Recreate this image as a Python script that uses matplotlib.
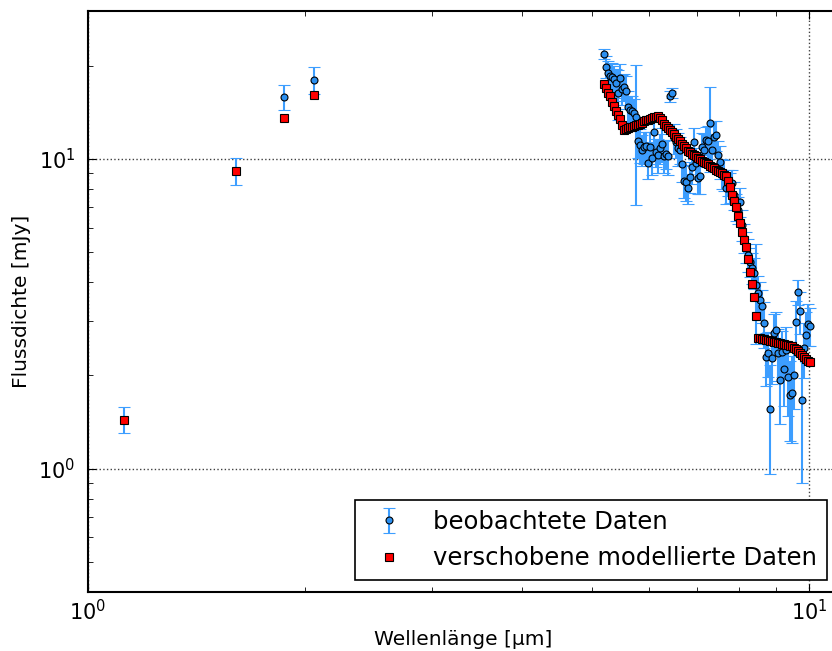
import matplotlib.pyplot as plt
from matplotlib.ticker import NullFormatter

# photometry points (short wavelengths)
wl_phot = [1.122, 1.604, 1.87, 2.06]
flux_phot = [1.44, 9.15, 15.85, 17.98]
err_phot = [0.14, 0.9, 1.5, 1.75]
model_phot = [1.44, 9.15, 13.56, 16.1]

# spectrum (5.2 - 10 micron)
wl_spec = [
    5.197, 5.230, 5.264, 5.297, 5.331, 5.365, 5.400, 5.434, 5.469, 5.504,
    5.539, 5.575, 5.610, 5.646, 5.682, 5.719, 5.756, 5.792, 5.830, 5.867,
    5.905, 5.942, 5.980, 6.019, 6.057, 6.096, 6.135, 6.174, 6.214, 6.254,
    6.294, 6.334, 6.375, 6.416, 6.457, 6.498, 6.540, 6.582, 6.624, 6.666,
    6.709, 6.752, 6.795, 6.839, 6.883, 6.927, 6.971, 7.016, 7.061, 7.106,
    7.152, 7.198, 7.244, 7.290, 7.337, 7.384, 7.431, 7.479, 7.527, 7.575,
    7.624, 7.672, 7.722, 7.771, 7.821, 7.871, 7.921, 7.972, 8.023, 8.075,
    8.126, 8.178, 8.231, 8.284, 8.337, 8.390, 8.444, 8.498, 8.552, 8.607,
    8.662, 8.718, 8.774, 8.830, 8.886, 8.943, 9.001, 9.058, 9.116, 9.175,
    9.233, 9.293, 9.352, 9.412, 9.472, 9.533, 9.594, 9.656, 9.718, 9.780,
    9.843, 9.906, 9.969, 10.03,
]
flux_spec = [
    21.8, 19.8, 18.9, 18.5, 18.4, 18.1, 17.6, 16.3, 18.3, 16.8,
    17.1, 16.5, 14.7, 14.4, 14.3, 14.1, 13.6, 11.4, 11.1, 10.7,
    10.9, 11.0, 9.71, 10.9, 10.1, 12.2, 10.5, 10.3, 10.8, 11.2,
    10.2, 10.4, 10.2, 15.9, 16.3, 11.7, 11.3, 10.8, 10.7, 9.63,
    8.49, 8.43, 8.06, 8.75, 9.42, 11.3, 9.71, 8.69, 8.80, 10.9,
    10.7, 11.5, 11.4, 13.1, 10.7, 11.8, 11.9, 10.3, 9.78, 9.01,
    8.90, 8.06, 8.37, 8.12, 8.37, 7.65, 7.00, 6.85, 7.27, 6.13,
    5.56, 5.20, 4.90, 4.65, 4.45, 4.29, 3.92, 3.70, 3.51, 3.36,
    2.96, 2.30, 2.37, 1.56, 2.28, 2.75, 2.81, 2.37, 1.94, 2.38,
    2.09, 2.42, 1.98, 1.73, 1.76, 2.01, 2.98, 3.72, 3.23, 1.66,
    2.46, 2.71, 2.94, 2.89,
]
err_spec = [
    0.8, 1.6, 1.8, 1.7, 2.0, 1.8, 1.9, 3.0, 2.0, 1.9,
    1.7, 2.0, 1.8, 1.5, 1.6, 1.5, 6.5, 1.3, 1.4, 1.2,
    1.3, 1.2, 1.1, 1.3, 1.2, 1.4, 1.1, 1.3, 1.2, 1.4,
    1.2, 1.1, 1.3, 0.6, 0.6, 1.3, 1.2, 1.3, 1.1, 1.2,
    1.0, 1.1, 0.9, 1.0, 1.1, 1.3, 1.1, 1.0, 1.1, 1.2,
    1.3, 1.2, 1.4, 4.0, 1.3, 1.4, 1.3, 1.1, 1.2, 1.0,
    1.0, 0.9, 0.8, 0.9, 0.8, 0.8, 0.7, 0.7, 0.8, 0.7,
    0.6, 0.6, 0.6, 0.5, 0.5, 0.5, 1.4, 0.5, 0.5, 0.4,
    0.5, 0.45, 0.4, 0.6, 0.4, 0.4, 0.4, 0.45, 0.55, 0.4,
    0.5, 0.45, 0.5, 0.5, 0.55, 0.45, 0.5, 0.35, 0.5, 0.76,
    0.5, 0.5, 0.45, 0.4,
]
model_spec = [
    17.5, 16.9, 16.3, 15.9, 15.3, 14.8, 14.3, 13.9, 13.4, 12.9,
    12.4, 12.5, 12.6, 12.7, 12.7, 12.8, 12.9, 12.9, 13.0, 13.1,
    13.2, 13.3, 13.3, 13.4, 13.5, 13.6, 13.6, 13.7, 13.5, 13.3,
    13.0, 12.8, 12.6, 12.4, 12.2, 12.0, 11.8, 11.6, 11.4, 11.2,
    11.0, 10.8, 10.6, 10.5, 10.4, 10.3, 10.2, 10.1, 9.96, 9.87,
    9.77, 9.68, 9.59, 9.50, 9.41, 9.32, 9.23, 9.14, 9.05, 8.97,
    8.88, 8.82, 8.49, 8.12, 7.65, 7.32, 7.00, 6.55, 6.22, 5.81,
    5.48, 5.20, 4.76, 4.32, 3.95, 3.59, 3.10, 2.65, 2.64, 2.63,
    2.62, 2.61, 2.60, 2.59, 2.58, 2.57, 2.56, 2.55, 2.54, 2.53,
    2.52, 2.51, 2.50, 2.49, 2.48, 2.46, 2.43, 2.40, 2.37, 2.33,
    2.30, 2.26, 2.23, 2.21,
]

wl = wl_phot + wl_spec
flux = flux_phot + flux_spec
err = err_phot + err_spec
model = model_phot + model_spec

fig = plt.figure(figsize=(8.32, 6.51), dpi=100)
ax = fig.add_axes([88 / 832, 59 / 651, 751 / 832, 581 / 651])

obs = ax.errorbar(wl, flux, yerr=err, fmt="o", ms=5, mfc="#2b8ff0", mec="k",
                  mew=0.8, ecolor="#3d9eff", elinewidth=1.5, capsize=4,
                  capthick=1.5, zorder=2, label="beobachtete Daten")
mod, = ax.plot(wl, model, "s", ms=5.5, mfc="red", mec="k", mew=0.8, ls="none",
               zorder=4, label="verschobene modellierte Daten")

ax.set_xscale("log")
ax.set_yscale("log")
ax.set_xlim(1, 11)
ax.set_ylim(0.4, 30)
ax.xaxis.set_minor_formatter(NullFormatter())
ax.yaxis.set_minor_formatter(NullFormatter())

ax.grid(True, which="major", linestyle=":", color="0.25", linewidth=1)
ax.tick_params(which="both", direction="in", top=True, right=True)
ax.tick_params(which="major", length=6, labelsize=15)
ax.tick_params(which="minor", length=3.5)
ax.tick_params(axis="y", which="major", pad=9)
ax.tick_params(axis="x", which="major", pad=5)
for s in ax.spines.values():
    s.set_linewidth(1.5)

ax.set_xlabel("Wellenlänge [µm]", fontsize=14.5, labelpad=4)
ax.set_ylabel("Flussdichte [mJy]", fontsize=14.5, labelpad=5)

leg = ax.legend([obs, mod], ["beobachtete Daten", "verschobene modellierte Daten"],
                loc="lower right", numpoints=1, fontsize=17.5, fancybox=False,
                edgecolor="k", framealpha=1, borderaxespad=0.5)
leg.get_frame().set_linewidth(1.2)

fig.savefig("out.png", dpi=100)
